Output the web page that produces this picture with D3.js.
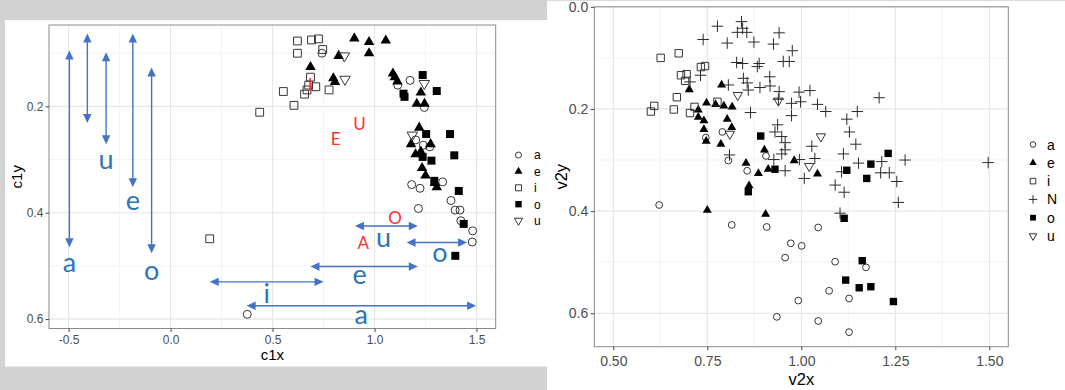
<!DOCTYPE html>
<html>
<head>
<meta charset="utf-8">
<script src="https://cdn.jsdelivr.net/npm/d3@7"></script>
<style>
  body { margin: 0; background: #fff; }
  svg { display: block; }
</style>
</head>
<body>
<svg id="chart" width="1065" height="390"></svg>
<script>
// ---- vowel categories ----
const vowelsC1 = ["a", "e", "i", "o", "u"];
const vowelsV2 = ["a", "e", "i", "N", "o", "u"];

// ---- c1 panel: [c1x, c1y] per vowel ----
const c1_a = [[0.742,0.100],[1.174,0.151],[1.114,0.160],[1.244,0.202],[1.202,0.263],[1.239,0.273],[1.271,0.276],
  [1.182,0.347],[1.223,0.354],[1.334,0.342],[1.215,0.392],[1.375,0.377],[1.395,0.395],[1.419,0.395],[1.423,0.415],
  [1.481,0.434],[1.479,0.455],[0.376,0.591]];
const c1_e = [[0.901,0.072],[0.973,0.079],[1.055,0.076],[0.973,0.100],[0.824,0.105],[0.686,0.126],[0.798,0.147],
  [0.806,0.154],[1.090,0.138],[1.099,0.145],[1.112,0.153],[1.227,0.174],[1.207,0.195],[1.245,0.195],[1.219,0.240],
  [1.179,0.271],[1.275,0.271],[1.201,0.290],[1.227,0.285],[1.233,0.316],[1.250,0.330],[1.296,0.344],[1.305,0.352]];
const c1_i = [[0.622,0.077],[0.691,0.075],[0.725,0.073],[0.622,0.100],[0.746,0.093],[0.686,0.145],[0.677,0.160],
  [0.712,0.163],[0.669,0.169],[0.657,0.177],[0.553,0.172],[0.777,0.169],[0.605,0.198],[0.437,0.211],[0.192,0.449]];
const c1_o = [[1.236,0.141],[1.305,0.171],[1.142,0.176],[1.147,0.182],[1.370,0.252],[1.253,0.252],[1.391,0.292],
  [1.236,0.295],[1.279,0.302],[1.293,0.340],[1.413,0.359],[1.437,0.421],[1.396,0.481]];
const c1_u = [[0.852,0.105],[0.855,0.149],[1.244,0.157],[1.185,0.254]];

// ---- v2 panel: [v2x, v2y] per vowel ----
const v2_a = [[0.622,0.388],[0.815,0.427],[0.908,0.431],[1.045,0.432],[0.972,0.463],[1.001,0.468],[0.957,0.491],
  [1.090,0.499],[1.172,0.510],[1.074,0.556],[0.992,0.575],[1.127,0.571],[0.935,0.607],[1.045,0.615],[1.127,0.637],
  [0.746,0.256],[0.790,0.245],[0.806,0.301],[0.856,0.321],[0.906,0.292]];
const v2_e = [[0.702,0.162],[0.788,0.153],[0.748,0.188],[0.772,0.191],[0.794,0.194],[0.816,0.196],[0.726,0.202],
  [0.726,0.216],[0.741,0.223],[0.741,0.240],[0.803,0.220],[0.815,0.236],[0.747,0.263],[0.786,0.269],[0.902,0.280],
  [0.853,0.306],[0.886,0.326],[0.912,0.318],[0.981,0.301],[1.043,0.327],[0.861,0.350],[0.750,0.398],[0.905,0.406]];
const v2_i = [[0.626,0.100],[0.674,0.091],[0.680,0.134],[0.695,0.132],[0.691,0.145],[0.733,0.118],[0.744,0.116],
  [0.669,0.177],[0.609,0.194],[0.600,0.205],[0.661,0.201],[0.704,0.208],[0.716,0.196],[0.777,0.186]];
const v2_N = [[0.777,0.038],[0.841,0.029],[0.844,0.042],[0.830,0.050],[0.855,0.050],[0.739,0.064],[0.803,0.071],
  [0.874,0.069],[0.828,0.109],[0.844,0.111],[0.888,0.111],[0.883,0.117],[0.732,0.134],[0.704,0.147],[0.806,0.153],
  [0.846,0.140],[0.856,0.149],[0.859,0.163],[0.890,0.158],[0.865,0.207],[0.809,0.290],[0.941,0.051],[0.926,0.073],
  [0.976,0.086],[0.952,0.107],[0.968,0.107],[0.916,0.137],[0.917,0.155],[0.994,0.167],[1.023,0.164],[0.941,0.166],
  [0.939,0.181],[0.974,0.189],[0.998,0.186],[1.043,0.191],[1.065,0.205],[0.974,0.213],[1.207,0.178],[1.149,0.205],
  [1.121,0.220],[1.128,0.245],[1.145,0.269],[0.937,0.231],[0.930,0.245],[0.948,0.254],[0.957,0.266],[1.028,0.273],
  [0.957,0.280],[0.948,0.288],[0.927,0.299],[0.995,0.299],[1.036,0.297],[1.112,0.288],[1.152,0.306],[1.214,0.303],
  [1.276,0.300],[1.497,0.305],[0.957,0.321],[1.008,0.336],[1.107,0.323],[1.090,0.349],[1.114,0.363],[1.211,0.325],
  [1.234,0.325],[1.254,0.342],[1.258,0.383],[1.103,0.404]];
const v2_o = [[0.892,0.253],[0.930,0.318],[0.859,0.362],[1.121,0.320],[1.185,0.308],[1.231,0.287],[1.174,0.336],
  [1.114,0.414],[1.162,0.497],[1.118,0.535],[1.154,0.550],[1.185,0.548],[1.245,0.577]];
const v2_u = [[0.831,0.173],[0.810,0.249],[0.939,0.184],[1.052,0.254],[1.021,0.312]];

// ---- ticks ----
const c1xTicks = [-0.5, 0.0, 0.5, 1.0, 1.5];
const c1xTickLabels = ["-0.5", "0.0", "0.5", "1.0", "1.5"];
const c1yTicks = [0.2, 0.4, 0.6];
const c1yTickLabels = ["0.2", "0.4", "0.6"];
const c1xMinor = [-0.25, 0.25, 0.75, 1.25];
const c1yMinor = [0.1, 0.3, 0.5];
const v2xTicks = [0.5, 0.75, 1.0, 1.25, 1.5];
const v2xTickLabels = ["0.50", "0.75", "1.00", "1.25", "1.50"];
const v2yTicks = [0.0, 0.2, 0.4, 0.6];
const v2yTickLabels = ["0.0", "0.2", "0.4", "0.6"];
const v2xMinor = [0.625, 0.875, 1.125, 1.375];
const v2yMinor = [0.1, 0.3, 0.5];

// ---- annotations on the c1 panel (data coordinates) ----
// vertical double arrows: x, top, bottom, label, label y
const vArrowX = [-0.496, -0.408, -0.316, -0.185, -0.093];
const vArrowTop = [0.095, 0.063, 0.098, 0.063, 0.127];
const vArrowBottom = [0.465, 0.231, 0.271, 0.352, 0.476];
const vArrowLabel = ["a", "", "u", "e", "o"];
const vArrowLabelY = [0.498, 0, 0.304, 0.382, 0.514];
// horizontal double arrows: y, left, right, label, label position
const hArrowY = [0.425, 0.456, 0.501, 0.530, 0.575];
const hArrowLeft = [0.904, 1.157, 0.686, 0.192, 0.373];
const hArrowRight = [1.212, 1.454, 1.212, 0.750, 1.498];
const hArrowLabel = ["u", "o", "e", "i", "a"];
const hArrowLabelX = [1.044, 1.320, 0.927, 0.471, 0.935];
const hArrowLabelY = [0.452, 0.480, 0.520, 0.557, 0.596];
// red vowel marks
const redText = ["I", "E", "U", "O", "A"];
const redX = [0.684, 0.810, 0.926, 1.100, 0.945];
const redY = [0.160, 0.261, 0.233, 0.409, 0.456];

// ---- drawing ----
const FONT = "'Liberation Sans', Arial, sans-serif";
const NOTE_FONT = "Lato, 'Open Sans', sans-serif";
const svg = d3.select("#chart");

// framed backdrop of the left figure
svg.append("rect").attr("x", 0).attr("y", 0).attr("width", 547).attr("height", 390).attr("fill", "#d1d2d1");
svg.append("rect").attr("x", 5).attr("y", 20).attr("width", 542).attr("height", 346.5).attr("fill", "#fff");
svg.append("rect").attr("x", 547).attr("y", 0).attr("width", 518).attr("height", 1).attr("fill", "#dadada");

const shapeOf = { a: "circle", e: "tri", i: "square", N: "plus", o: "fsquare", u: "dtri" };

function symPath(shape, s) {
  if (shape === "circle") {
    const r = s;
    return `M${r},0A${r},${r} 0 1,1 ${-r},0A${r},${r} 0 1,1 ${r},0Z`;
  }
  if (shape === "square" || shape === "fsquare") {
    const h = s / 2;
    return `M${-h},${-h}H${h}V${h}H${-h}Z`;
  }
  if (shape === "tri" || shape === "dtri") {
    const h = s * Math.sqrt(3) / 2, k = shape === "tri" ? 1 : -1;
    return `M0,${-k * 2 * h / 3}L${s / 2},${k * h / 3}L${-s / 2},${k * h / 3}Z`;
  }
  const h = s / 2;
  return `M${-h},0H${h}M0,${-h}V${h}`;
}
function styleSym(sel, shape) {
  const filled = shape === "tri" || shape === "fsquare";
  sel.attr("fill", filled ? "#000" : "none")
     .attr("stroke", filled ? "none" : "#2b2b2b")
     .attr("stroke-width", shape === "plus" ? 1 : 0.95);
}

function drawPanel(o) {
  const g = svg.append("g");
  const [xl, xr] = o.x.range();
  const [yt, yb] = o.y.range();
  // grid
  g.selectAll(null).data(o.xMinor).join("line")
    .attr("x1", d => o.x(d)).attr("x2", d => o.x(d)).attr("y1", yt).attr("y2", yb)
    .attr("stroke", "#f0f0f0").attr("stroke-width", 0.8);
  g.selectAll(null).data(o.yMinor).join("line")
    .attr("y1", d => o.y(d)).attr("y2", d => o.y(d)).attr("x1", xl).attr("x2", xr)
    .attr("stroke", "#f0f0f0").attr("stroke-width", 0.8);
  g.selectAll(null).data(o.xTicks).join("line")
    .attr("x1", d => o.x(d)).attr("x2", d => o.x(d)).attr("y1", yt).attr("y2", yb)
    .attr("stroke", "#e6e6e6").attr("stroke-width", 1.2);
  g.selectAll(null).data(o.yTicks).join("line")
    .attr("y1", d => o.y(d)).attr("y2", d => o.y(d)).attr("x1", xl).attr("x2", xr)
    .attr("stroke", "#e6e6e6").attr("stroke-width", 1.2);

  // points
  o.series.forEach(([key, pts]) => {
    const shape = shapeOf[key];
    g.selectAll(null).data(pts).join("path")
      .attr("d", symPath(shape, o.sizes[shape]))
      .attr("transform", d => `translate(${o.x(d[0])},${o.y(d[1])})`)
      .call(styleSym, shape);
  });

  // border
  g.append("rect").attr("x", xl).attr("y", yt).attr("width", xr - xl).attr("height", yb - yt)
    .attr("fill", "none").attr("stroke", "#8a8a8a").attr("stroke-width", 1);

  // axes
  const styleAxis = a => {
    a.select(".domain").remove();
    a.attr("font-family", FONT).attr("font-size", o.fs);
    a.selectAll("line").attr("stroke", "#444");
    a.selectAll("text").attr("fill", "#4d4d4d");
  };
  g.append("g").attr("transform", `translate(0,${yb})`)
    .call(d3.axisBottom(o.x).tickValues(o.xTicks).tickFormat((d, i) => o.xLabels[i])
      .tickSize(3.5).tickPadding(o.padX))
    .call(styleAxis);
  g.append("g").attr("transform", `translate(${xl},0)`)
    .call(d3.axisLeft(o.y).tickValues(o.yTicks).tickFormat((d, i) => o.yLabels[i])
      .tickSize(3.5).tickPadding(o.padY))
    .call(styleAxis);

  // axis titles
  g.append("text").text(o.xTitle)
    .attr("x", (xl + xr) / 2).attr("y", o.xTitleY)
    .attr("text-anchor", "middle").attr("font-family", FONT).attr("font-size", o.tfs).attr("fill", "#000");
  g.append("text").text(o.yTitle)
    .attr("transform", `translate(${o.yTitleX},${(yt + yb) / 2}) rotate(-90)`)
    .attr("text-anchor", "middle").attr("font-family", FONT).attr("font-size", o.tfs).attr("fill", "#000");

  // legend
  const lg = g.append("g");
  o.legendKeys.forEach((k, i) => {
    const y = o.legendY0 + i * o.legendStep;
    const shape = shapeOf[k];
    lg.append("path").attr("d", symPath(shape, o.legendSizes[shape]))
      .attr("transform", `translate(${o.legendX},${y})`).call(styleSym, shape);
    lg.append("text").text(k).attr("x", o.legendTextX).attr("y", y).attr("dy", "0.36em")
      .attr("font-family", FONT).attr("font-size", o.fs).attr("fill", "#000");
  });
  return g;
}

// left panel: c1
const xC1 = d3.scaleLinear().domain([-0.596, 1.594]).range([49, 495.7]);
const yC1 = d3.scaleLinear().domain([0.0469, 0.6177]).range([25, 328.5]);
drawPanel({
  x: xC1, y: yC1,
  xTicks: c1xTicks, xLabels: c1xTickLabels, yTicks: c1yTicks, yLabels: c1yTickLabels,
  xMinor: c1xMinor, yMinor: c1yMinor,
  series: [["a", c1_a], ["e", c1_e], ["i", c1_i], ["o", c1_o], ["u", c1_u]],
  sizes: { circle: 4, tri: 10.5, square: 7.8, fsquare: 8, dtri: 10.5, plus: 10 },
  fs: 12, tfs: 15, padX: 3.5, padY: 2.2,
  xTitle: "c1x", xTitleY: 360, yTitle: "c1y", yTitleX: 22,
  legendKeys: vowelsC1, legendX: 518.5, legendTextX: 534, legendY0: 155, legendStep: 16.4,
  legendSizes: { circle: 3, tri: 8, square: 6, fsquare: 6.4, dtri: 8.2 }
});

// right panel: v2
const xV2 = d3.scaleLinear().domain([0.4495, 1.5505]).range([594.3, 1008.3]);
const yV2 = d3.scaleLinear().domain([0, 0.6654]).range([6.8, 346.7]);
drawPanel({
  x: xV2, y: yV2,
  xTicks: v2xTicks, xLabels: v2xTickLabels, yTicks: v2yTicks, yLabels: v2yTickLabels,
  xMinor: v2xMinor, yMinor: v2yMinor,
  series: [["a", v2_a], ["e", v2_e], ["i", v2_i], ["N", v2_N], ["o", v2_o], ["u", v2_u]],
  sizes: { circle: 3.4, tri: 9, square: 7.4, fsquare: 7.4, dtri: 9.4, plus: 11.5 },
  fs: 14, tfs: 16.5, padX: 6, padY: 2.5,
  xTitle: "v2x", xTitleY: 385, yTitle: "v2y", yTitleX: 567,
  legendKeys: vowelsV2, legendX: 1033, legendTextX: 1047, legendY0: 144.5, legendStep: 18.3,
  legendSizes: { circle: 2.8, tri: 7.4, square: 5.6, fsquare: 5.8, dtri: 7.6, plus: 8.5 }
});

// ---- c1 annotations ----
const ann = svg.append("g");
const ARROW = "#4472c4", NOTE_BLUE = "#2e75b6", NOTE_RED = "#ff2f2f";
const HL = 9, HW = 4.2; // arrowhead length and half width

vArrowX.forEach((xv, i) => {
  const x = xC1(xv), y0 = yC1(vArrowTop[i]), y1 = yC1(vArrowBottom[i]);
  ann.append("line").attr("x1", x).attr("x2", x).attr("y1", y0 + HL - 1).attr("y2", y1 - HL + 1)
    .attr("stroke", ARROW).attr("stroke-width", 1.4);
  ann.append("path").attr("d", `M${x},${y0}L${x + HW},${y0 + HL}L${x - HW},${y0 + HL}Z`).attr("fill", ARROW);
  ann.append("path").attr("d", `M${x},${y1}L${x + HW},${y1 - HL}L${x - HW},${y1 - HL}Z`).attr("fill", ARROW);
  if (vArrowLabel[i]) {
    ann.append("text").text(vArrowLabel[i]).attr("x", x).attr("y", yC1(vArrowLabelY[i]) + 7)
      .attr("text-anchor", "middle").attr("font-family", NOTE_FONT).attr("font-size", 27).attr("fill", NOTE_BLUE);
  }
});

hArrowY.forEach((yv, i) => {
  const y = yC1(yv), x0 = xC1(hArrowLeft[i]), x1 = xC1(hArrowRight[i]);
  ann.append("line").attr("y1", y).attr("y2", y).attr("x1", x0 + HL - 1).attr("x2", x1 - HL + 1)
    .attr("stroke", ARROW).attr("stroke-width", 1.4);
  ann.append("path").attr("d", `M${x0},${y}L${x0 + HL},${y - HW}L${x0 + HL},${y + HW}Z`).attr("fill", ARROW);
  ann.append("path").attr("d", `M${x1},${y}L${x1 - HL},${y - HW}L${x1 - HL},${y + HW}Z`).attr("fill", ARROW);
  ann.append("text").text(hArrowLabel[i]).attr("x", xC1(hArrowLabelX[i])).attr("y", yC1(hArrowLabelY[i]) + 7)
    .attr("text-anchor", "middle").attr("font-family", NOTE_FONT).attr("font-size", 27).attr("fill", NOTE_BLUE);
});

redText.forEach((t, i) => {
  ann.append("text").text(t).attr("x", xC1(redX[i])).attr("y", yC1(redY[i]) + 6)
    .attr("text-anchor", "middle").attr("font-family", NOTE_FONT).attr("font-size", 17).attr("fill", NOTE_RED);
});
</script>
</body>
</html>
